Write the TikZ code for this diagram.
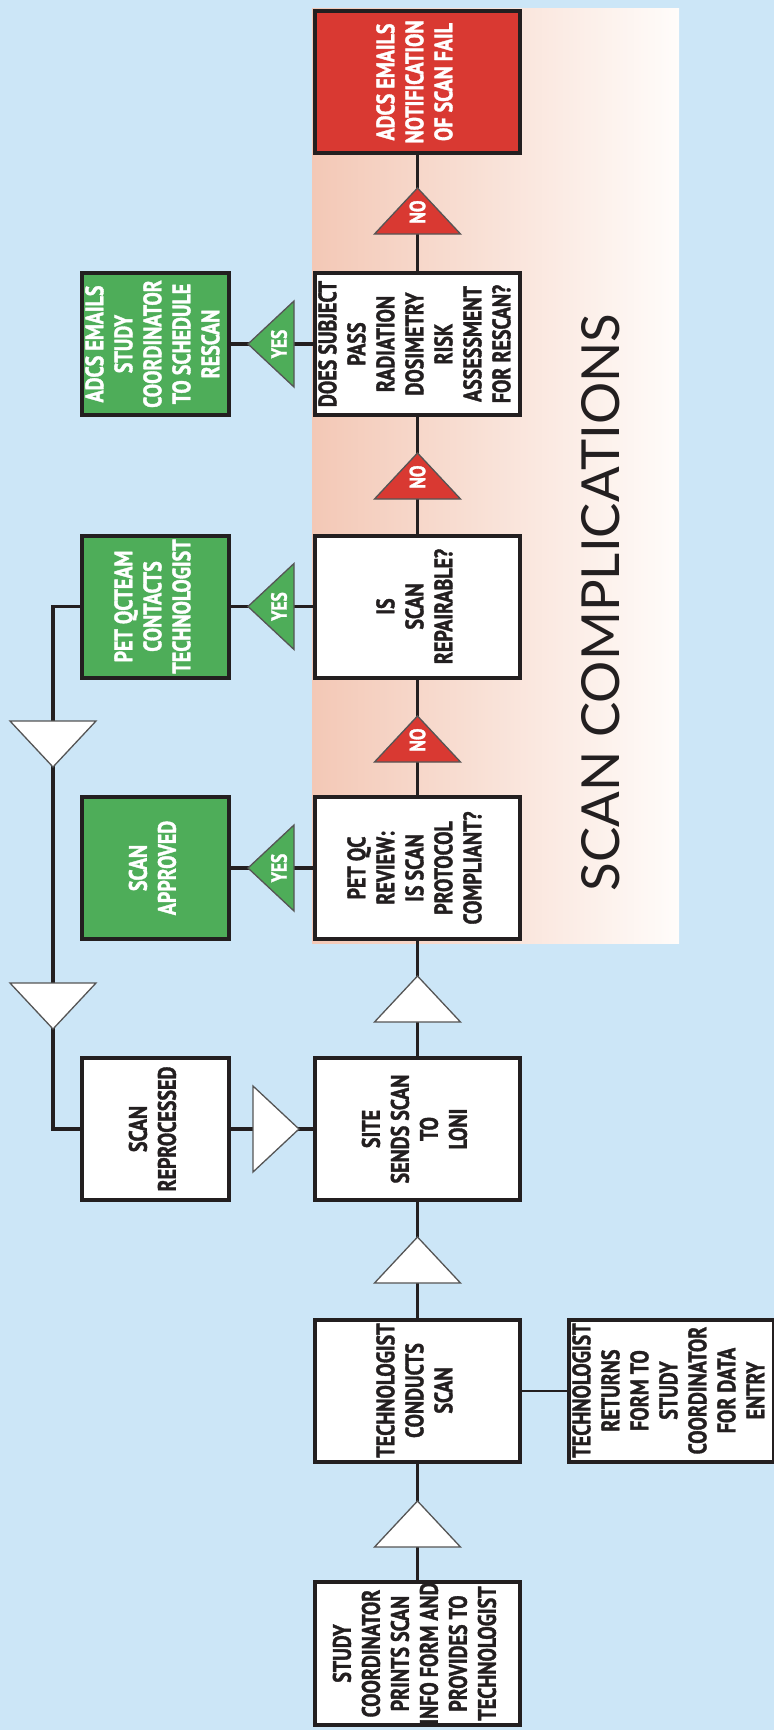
\documentclass[tikz,border=0pt]{standalone}
\usepackage{fontspec}
\setmainfont{PT Sans}
\newfontfamily\boxfont[FakeStretch=0.79,FakeBold=1.4]{PT Sans}
\newfontfamily\titlefont{Lato}
\usetikzlibrary{calc}

\definecolor{bgblue}{HTML}{CCE6F7}
\definecolor{boxgreen}{HTML}{4EAD59}
\definecolor{boxred}{HTML}{D93932}
\definecolor{salmon}{HTML}{F3C8B6}
\definecolor{paleend}{HTML}{FFFCFA}
\definecolor{ink}{HTML}{231F20}
\definecolor{triline}{HTML}{555555}

\newcommand\vlines[1]{\rotatebox{90}{\fontsize{25.3bp}{29bp}\boxfont\bfseries\selectfont\begin{tabular}{@{}c@{}}#1\end{tabular}}}
\newcommand\trilab[1]{\rotatebox{90}{\fontsize{22bp}{24bp}\boxfont\bfseries\selectfont #1}}

\begin{document}
\begin{tikzpicture}[x=1bp,y=-1bp,
  box/.style={draw=ink, line width=4bp, fill=white, text=ink,
    minimum width=205bp, minimum height=142bp, inner sep=0pt},
  sidebox/.style={box, minimum width=147bp},
  greenbox/.style={sidebox, fill=boxgreen, text=white},
  redbox/.style={box, fill=boxred, text=white},
  conn/.style={draw=ink, line width=3.4bp},
  thinconn/.style={draw=ink, line width=2bp},
  tristyle/.style={draw=triline, line width=1.3bp, line join=miter},
  trilabel/.style={inner sep=0pt, text=white},
  tri/.pic={\path[pic actions] (-43,0) -- (43,0) -- (0,-46) -- cycle;}
]
% background and frame
\fill[bgblue] (0,0) rectangle (774,1730);
\useasboundingbox (0,0) rectangle (774,1730);
\shade[left color=salmon, right color=paleend] (312,8) rectangle (679,943);

% main column
\node[redbox] (fail) at (417.5,82) {\vlines{ADCS EMAILS\\NOTIFICATION\\OF SCAN FAIL}};
\node[box] (dosim) at (417.5,344) {\vlines{DOES SUBJECT\\PASS\\RADIATION\\DOSIMETRY\\RISK\\ASSESSMENT\\FOR RESCAN?}};
\node[box] (repair) at (417.5,606.5) {\vlines{IS\\SCAN\\REPAIRABLE?}};
\node[box] (review) at (417.5,868) {\vlines{PET QC\\REVIEW:\\IS SCAN\\PROTOCOL\\COMPLIANT?}};
\node[box] (sends) at (417.5,1129) {\vlines{SITE\\SENDS SCAN\\TO\\LONI}};
\node[box] (conducts) at (417.5,1390.5) {\vlines{TECHNOLOGIST\\CONDUCTS\\SCAN}};
\node[box] (prints) at (417.5,1653.5) {\vlines{STUDY\\COORDINATOR\\PRINTS SCAN\\INFO FORM AND\\PROVIDES TO\\TECHNOLOGIST}};

% side column
\node[greenbox] (resched) at (155.5,344) {\vlines{ADCS EMAILS\\STUDY\\COORDINATOR\\TO SCHEDULE\\RESCAN}};
\node[greenbox] (contacts) at (155.5,606.5) {\vlines{PET QCTEAM\\CONTACTS\\TECHNOLOGIST}};
\node[greenbox] (approved) at (155.5,868) {\vlines{SCAN\\APPROVED}};
\node[sidebox] (reproc) at (155.5,1129) {\vlines{SCAN\\REPROCESSED}};
\node[box] (returns) at (671.5,1390.5) {\vlines{TECHNOLOGIST\\RETURNS\\FORM TO\\STUDY\\COORDINATOR\\FOR DATA\\ENTRY}};

% connectors
\coordinate (loopx) at (53,0);
\draw[conn] (prints) -- (conducts);
\draw[conn] (conducts) -- (sends);
\draw[conn] (sends) -- (review);
\draw[conn] (review) -- (repair);
\draw[conn] (repair) -- (dosim);
\draw[conn] (dosim) -- (fail);
\draw[conn] (review) -- (approved);
\draw[conn] (repair) -- (contacts);
\draw[conn] (dosim) -- (resched);
\draw[conn] (reproc) -- (sends);
\draw[conn] (contacts.west) -| (loopx |- reproc.west) -- (reproc.west);
\draw[thinconn] (conducts) -- (returns);

% triangles on the main line
\pic[tristyle, fill=white] at (417.5,1547) {tri};
\pic[tristyle, fill=white] at (417.5,1283) {tri};
\pic[tristyle, fill=white] at (417.5,1022) {tri};
\pic[tristyle, fill=boxred] at (417.5,762) {tri};
\pic[tristyle, fill=boxred] at (417.5,499) {tri};
\pic[tristyle, fill=boxred] at (417.5,234) {tri};
% YES triangles
\pic[tristyle, fill=boxgreen, rotate=90] at (294,868) {tri};
\pic[tristyle, fill=boxgreen, rotate=90] at (294,606.5) {tri};
\pic[tristyle, fill=boxgreen, rotate=90] at (294,344) {tri};
% loop triangles
\pic[tristyle, fill=white, rotate=180] at (53,721) {tri};
\pic[tristyle, fill=white, rotate=180] at (53,983) {tri};
\pic[tristyle, fill=white, rotate=-90] at (253,1129) {tri};

% triangle labels
\node[trilabel] (no1) at (417.5,740) {\trilab{NO}};
\node[trilabel] (no2) at (417.5,477) {\trilab{NO}};
\node[trilabel] (no3) at (417.5,212) {\trilab{NO}};
\node[trilabel] (yes1) at (279,868) {\trilab{YES}};
\node[trilabel] (yes2) at (279,606.5) {\trilab{YES}};
\node[trilabel] (yes3) at (279,344) {\trilab{YES}};

% title
\node[inner sep=0pt, text=ink] (title) at (601,602.5) {\rotatebox{90}{\resizebox{577bp}{38bp}{\titlefont SCAN COMPLICATIONS}}};
\end{tikzpicture}
\end{document}
